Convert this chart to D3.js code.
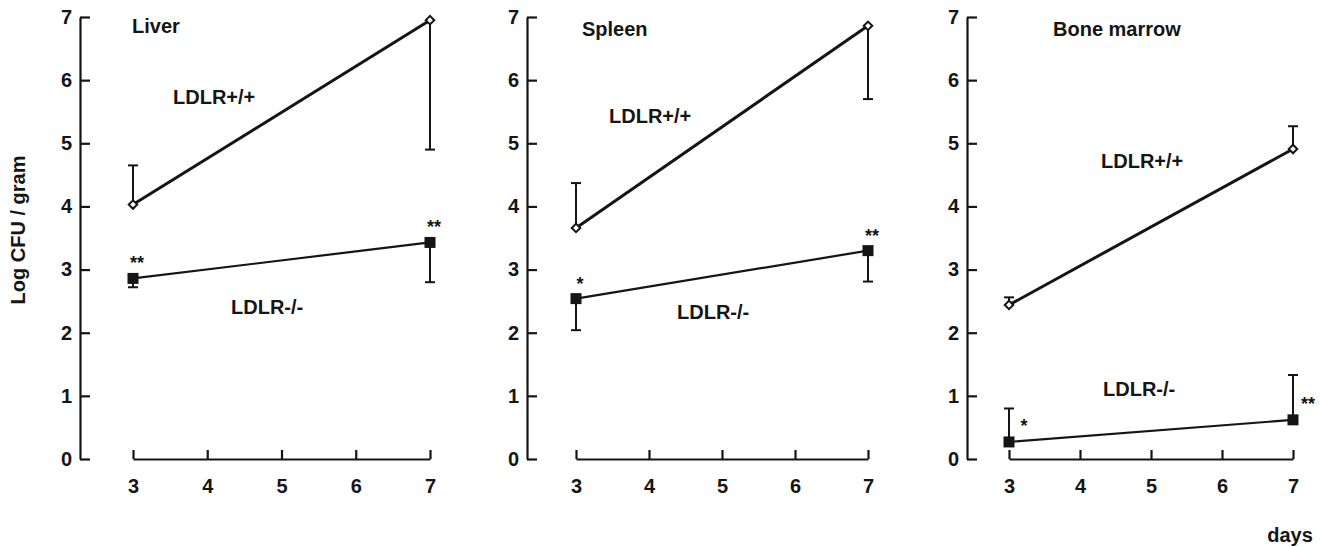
<!DOCTYPE html>
<html>
<head>
<meta charset="utf-8">
<script src="https://cdn.jsdelivr.net/npm/d3@7"></script>
<style>
  html, body { margin: 0; padding: 0; background: #fff; }
  svg { display: block; font-family: "Liberation Sans", Arial, sans-serif; font-weight: bold; }
</style>
</head>
<body>
<svg id="chart" width="1320" height="547"></svg>
<script>
// ---------------- data ----------------
const days = [3, 7];
const xTickValues = [3, 4, 5, 6, 7];
const yTickValues = [0, 1, 2, 3, 4, 5, 6, 7];
const organs = ["Liver", "Spleen", "Bone marrow"];
const groupLabels = ["LDLR+/+", "LDLR-/-"];
const yTitle = "Log CFU / gram";
const xTitle = "days";

// LDLR+/+ means and error-bar ends
const liverWT = [4.03, 6.95];
const liverWTErr = [4.65, 4.90];
const spleenWT = [3.66, 6.86];
const spleenWTErr = [4.37, 5.70];
const marrowWT = [2.44, 4.91];
const marrowWTErr = [2.56, 5.27];

// LDLR-/- means and error-bar ends
const liverKO = [2.86, 3.43];
const liverKOErr = [2.72, 2.80];
const spleenKO = [2.54, 3.30];
const spleenKOErr = [2.04, 2.81];
const marrowKO = [0.27, 0.62];
const marrowKOErr = [0.80, 1.33];

// significance marks on LDLR-/-
const liverStars = ["**", "**"];
const spleenStars = ["*", "**"];
const marrowStars = ["*", "**"];

// ---------------- layout ----------------
const svg = d3.select("#chart");
const ink = "#151515";
const yRange = [459, 17];
const fs = "20px";

const panels = [
  { name: organs[0], axisX: 80, xr: [133, 430], wt: liverWT, wtErr: liverWTErr, ko: liverKO, koErr: liverKOErr, stars: liverStars,
    titleXY: [132, 26], wtLab: [173, 97], koLab: [231, 307], starMode: "above" },
  { name: organs[1], axisX: 527, xr: [576, 868], wt: spleenWT, wtErr: spleenWTErr, ko: spleenKO, koErr: spleenKOErr, stars: spleenStars,
    titleXY: [582, 29], wtLab: [609, 116], koLab: [677, 312], starMode: "above" },
  { name: organs[2], axisX: 967, xr: [1009, 1293], wt: marrowWT, wtErr: marrowWTErr, ko: marrowKO, koErr: marrowKOErr, stars: marrowStars,
    titleXY: [1053, 29], wtLab: [1101, 161], koLab: [1103, 389], starMode: "right" }
];

const y = d3.scaleLinear().domain([0, 7]).range(yRange);

panels.forEach(p => {
  const x = d3.scaleLinear().domain([3, 7]).range(p.xr);
  const g = svg.append("g");

  // y axis
  const ya = g.append("g")
    .attr("transform", `translate(${p.axisX},0)`)
    .call(d3.axisLeft(y).tickValues(yTickValues).tickSize(-10).tickSizeOuter(0).tickPadding(8).tickFormat(d3.format("d")));
  // x axis
  const xa = g.append("g")
    .attr("transform", `translate(0,${y(0)})`)
    .call(d3.axisBottom(x).tickValues(xTickValues).tickSize(-9).tickSizeOuter(0).tickPadding(20).tickFormat(d3.format("d")));

  [ya, xa].forEach(a => {
    a.select(".domain").attr("stroke", ink).attr("stroke-width", 2.2);
    a.selectAll(".tick line").attr("stroke", ink).attr("stroke-width", 2.2);
    a.selectAll(".tick text").attr("fill", ink).style("font-size", fs).style("font-weight", "bold")
      .style("font-family", "'Liberation Sans', Arial, sans-serif");
  });

  // error bars (one-sided, with cap)
  const drawErr = (means, ends) => {
    days.forEach((d, i) => {
      g.append("line").attr("x1", x(d)).attr("x2", x(d)).attr("y1", y(means[i])).attr("y2", y(ends[i]))
        .attr("stroke", ink).attr("stroke-width", 2);
      g.append("line").attr("x1", x(d) - 5).attr("x2", x(d) + 5).attr("y1", y(ends[i])).attr("y2", y(ends[i]))
        .attr("stroke", ink).attr("stroke-width", 2);
    });
  };
  drawErr(p.wt, p.wtErr);
  drawErr(p.ko, p.koErr);

  const line = d3.line().x((v, i) => x(days[i])).y(v => y(v));
  g.append("path").attr("d", line(p.wt)).attr("fill", "none").attr("stroke", ink).attr("stroke-width", 3);
  g.append("path").attr("d", line(p.ko)).attr("fill", "none").attr("stroke", ink).attr("stroke-width", 2.2);

  // markers
  const diamond = d3.symbol().type(d3.symbolSquare).size(36);
  p.wt.forEach((v, i) => {
    g.append("path").attr("d", diamond()).attr("transform", `translate(${x(days[i])},${y(v)}) rotate(45)`)
      .attr("fill", "#fff").attr("stroke", ink).attr("stroke-width", 2);
  });
  p.ko.forEach((v, i) => {
    g.append("rect").attr("x", x(days[i]) - 5.5).attr("y", y(v) - 5.5).attr("width", 11).attr("height", 11).attr("fill", ink);
  });

  // stars
  p.stars.forEach((s, i) => {
    let sx = x(days[i]) + 4, sy = y(p.ko[i]) - 19;
    if (p.starMode === "right") { sx = x(days[i]) + 15; sy = y(p.ko[i]) - 20; }
    g.append("text").attr("x", sx).attr("y", sy + 10).attr("text-anchor", "middle")
      .style("font-size", "18px").attr("fill", ink).text(s);
  });

  // labels
  g.append("text").attr("x", p.titleXY[0]).attr("y", p.titleXY[1]).attr("dy", "0.35em")
    .style("font-size", fs).attr("fill", ink).text(p.name);
  g.append("text").attr("x", p.wtLab[0]).attr("y", p.wtLab[1]).attr("dy", "0.35em")
    .style("font-size", fs).attr("fill", ink).text(groupLabels[0]);
  g.append("text").attr("x", p.koLab[0]).attr("y", p.koLab[1]).attr("dy", "0.35em")
    .style("font-size", fs).attr("fill", ink).text(groupLabels[1]);
});

// axis titles
svg.append("text").attr("transform", "translate(18,230) rotate(-90)").attr("text-anchor", "middle").attr("dy", "0.35em")
  .style("font-size", fs).attr("fill", ink).text(yTitle);
svg.append("text").attr("x", 1290).attr("y", 542).attr("text-anchor", "middle")
  .style("font-size", fs).attr("fill", ink).text(xTitle);
</script>
</body>
</html>
